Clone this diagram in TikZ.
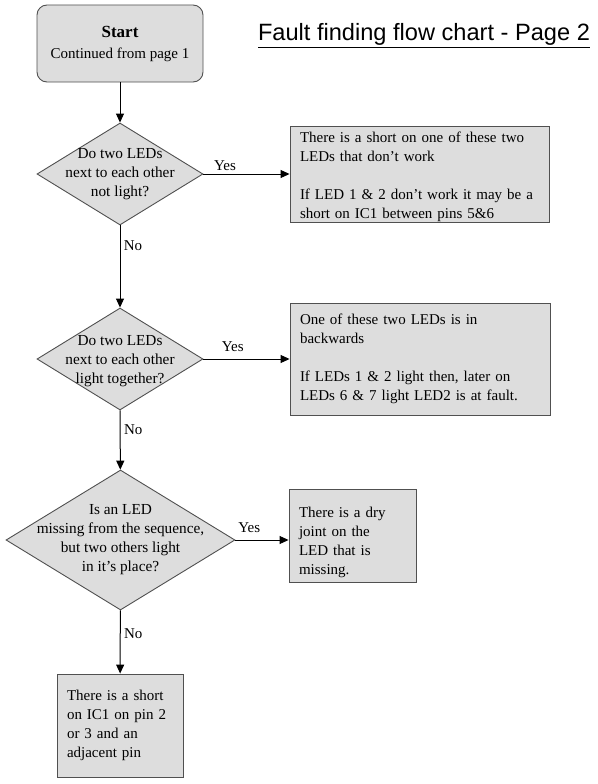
\documentclass[tikz,border=0pt]{standalone}
\usepackage{fontspec}
\setmainfont{Liberation Serif}
\newfontfamily\titlefont{Liberation Sans}
\usetikzlibrary{shapes.geometric,arrows.meta}
\definecolor{boxgray}{HTML}{DDDDDD}
\definecolor{edgegray}{HTML}{505050}
\tikzset{
  chartbox/.style={draw=edgegray,fill=boxgray,line width=0.9pt,font=\fontsize{15}{19}\selectfont,align=left,inner xsep=10pt,inner ysep=0pt},
  question/.style={diamond,draw=edgegray,fill=boxgray,line width=0.9pt,inner sep=0pt},
  asktext/.style={align=center,font=\fontsize{15.3}{19}\selectfont},
  flow/.style={line width=1pt,-{Triangle[length=9pt,width=8pt]}},
  every node/.append style={font=\fontsize{15}{19}\selectfont}
}
\begin{document}
\begin{tikzpicture}[x=1pt,y=-1pt]
\useasboundingbox (0,0) rectangle (597,784);
%title
\node[anchor=base,font=\titlefont\fontsize{23.6}{27}\selectfont] (title) at (424,41) {\underline{Fault finding flow chart - Page 2}};

\node[chartbox,rounded corners=10pt,align=center,minimum width=166pt,minimum height=77pt] (start) at (120,43.5) {{\fontsize{17}{20}\selectfont\bfseries Start}\\[2pt]Continued from page 1};

\node[question,minimum width=166pt,minimum height=102pt,label={[asktext]center:{Do two LEDs\\next to each other\\not light?}}] (ledsOff) at (120,174) {};
\node[question,minimum width=166pt,minimum height=102pt,label={[asktext,yshift=-2pt]center:{Do two LEDs\\next to each other\\light together?}}] (ledsTogether) at (120,359) {};
\node[question,minimum width=229pt,minimum height=140pt,label={[asktext]center:{Is an LED\\missing from the sequence,\\but two others light\\in it’s place?}}] (ledMissing) at (120.5,540) {};

\node[chartbox,text width=239pt,minimum height=95pt] (shortPair) at (419.5,174.5) {\rule{0pt}{16pt}There is a short on one of these two\\LEDs that don’t work\\[19pt]If LED 1 \& 2 don’t work it may be a\\short on IC1 between pins 5\&6};
\node[chartbox,text width=240pt,minimum height=112pt] (backwards) at (420,359) {One of these two LEDs is in\\backwards\\[19pt]If LEDs 1 \& 2 light then, later on\\LEDs 6 \& 7 light LED2 is at fault.};
\node[chartbox,text width=107pt,minimum height=93pt] (dryJoint) at (352.5,535.5) {\rule{0pt}{24pt}There is a dry\\joint on the\\LED that is\\missing.};
\node[chartbox,text width=106pt,minimum height=103pt] (shortPin) at (120,725.5) {There is a short\\on IC1 on pin 2\\or 3 and an\\adjacent pin};

\draw[flow] (start) -- (ledsOff);
\draw[flow] (ledsOff.east) -- node[above,pos=0.25] (yesA) {Yes} (ledsOff.east -| shortPair.west);
\draw[flow] (ledsOff) -- node[right,pos=0.25] (noA) {No} (ledsTogether);
\draw[flow] (ledsTogether.east) -- node[above=4pt,pos=0.34] (yesB) {Yes} (ledsTogether.east -| backwards.west);
\draw[flow] (ledsTogether) -- node[right,pos=0.32] (noB) {No} (ledMissing);
\draw[flow] (ledMissing.east) -- node[above=4pt,pos=0.26] (yesC) {Yes} (ledMissing.east -| dryJoint.west);
\draw[flow] (ledMissing) -- node[right,pos=0.375] (noC) {No} (shortPin);
\end{tikzpicture}
\end{document}
